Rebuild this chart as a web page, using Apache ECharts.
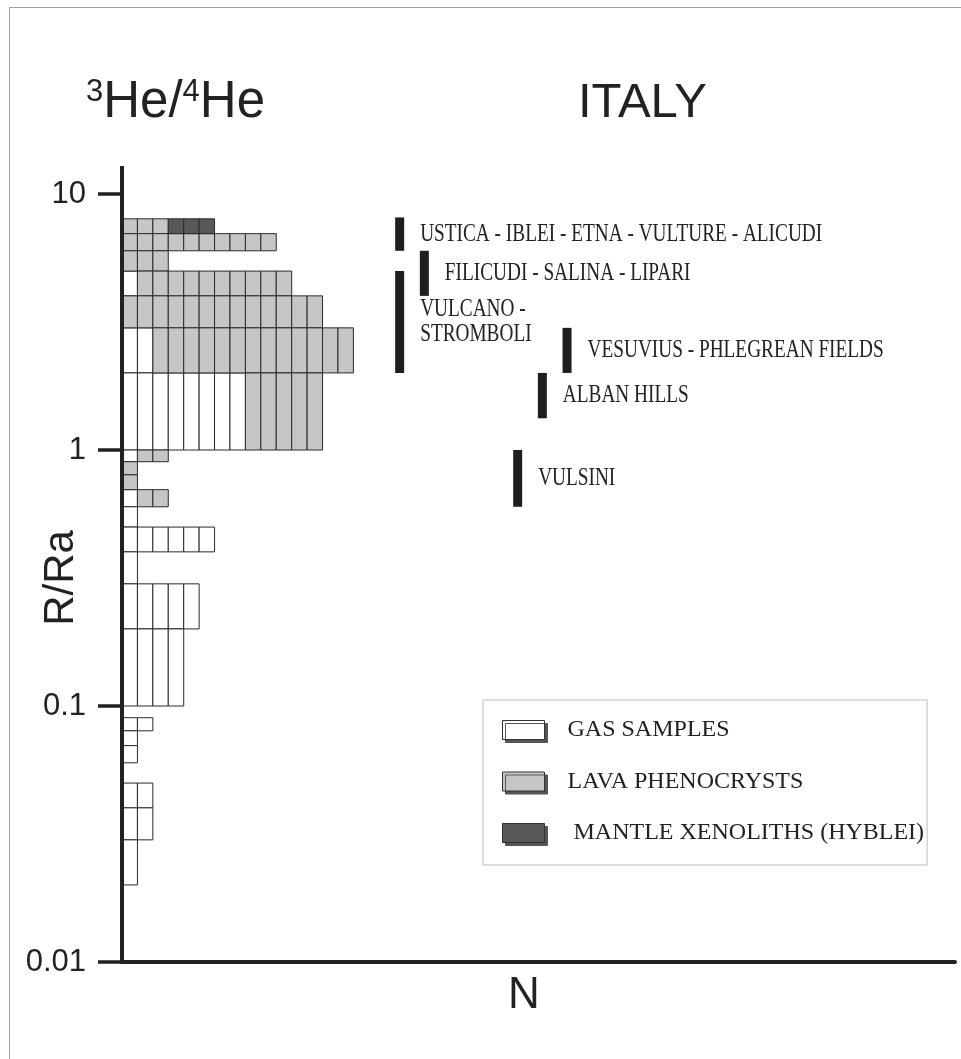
<!DOCTYPE html>
<html>
<head>
<meta charset="utf-8">
<script src="https://cdn.jsdelivr.net/npm/echarts@6/dist/echarts.min.js"></script>
<style>
html,body{margin:0;padding:0;background:#fff;}
#chart{width:961px;height:1059px;}
</style>
</head>
<body>
<div id="chart"></div>
<script>
// ---- Histogram bins of 3He/4He (R/Ra), log scale ----
const binLow  = [7, 6, 5, 4, 3, 2, 1, 0.9, 0.8, 0.7, 0.6, 0.5, 0.4, 0.3, 0.2, 0.1, 0.08, 0.07, 0.06, 0.04, 0.03, 0.02];
const binHigh = [8, 7, 6, 5, 4, 3, 2, 1,   0.9, 0.8, 0.7, 0.6, 0.5, 0.4, 0.3, 0.2, 0.09, 0.08, 0.07, 0.05, 0.04, 0.03];
const gasCounts    = [0, 0, 0, 1, 0, 2, 8, 1, 0, 0, 1, 1, 6, 1, 5, 4, 2, 1, 1, 2, 2, 1];
const lavaCounts   = [3,10, 3,10,13,13, 5, 2, 1, 1, 2, 0, 0, 0, 0, 0, 0, 0, 0, 0, 0, 0];
const mantleCounts = [3, 0, 0, 0, 0, 0, 0, 0, 0, 0, 0, 0, 0, 0, 0, 0, 0, 0, 0, 0, 0, 0];
const seriesNames = ['GAS SAMPLES', 'LAVA PHENOCRYSTS', 'MANTLE XENOLITHS (HYBLEI)'];

// ---- Ranges per volcanic district ----
const rangeNames = ['USTICA - IBLEI - ETNA - VULTURE - ALICUDI', 'FILICUDI - SALINA - LIPARI', 'VULCANO -\nSTROMBOLI', 'VESUVIUS - PHLEGREAN FIELDS', 'ALBAN HILLS', 'VULSINI'];
const rangeN    = [18, 19.6, 18, 28.85, 27.25, 25.65];
const rangeLow  = [6, 4, 2, 2, 1.33, 0.6];
const rangeHigh = [8.1, 6, 5, 3, 2, 1];

// ---- Axis ticks ----
const yTickValues = [0.01, 0.1, 1, 10];
const yTickLabels = ['0.01', '0.1', '1', '10'];

// build cell tables from the counts
const gasCells = [], lavaCells = [], mantleCells = [];
for (let i = 0; i < binLow.length; i++) {
  let n = 0;
  for (let k = 0; k < gasCounts[i]; k++) gasCells.push([n++, binLow[i], binHigh[i]]);
  for (let k = 0; k < lavaCounts[i]; k++) lavaCells.push([n++, binLow[i], binHigh[i]]);
  for (let k = 0; k < mantleCounts[i]; k++) mantleCells.push([n++, binLow[i], binHigh[i]]);
}
const rangeData = rangeNames.map((_, i) => [rangeN[i], rangeLow[i], rangeHigh[i], i]);

const fills = ['#ffffff', '#c6c6c6', '#585858'];
const SANS = '"Liberation Sans", Arial, sans-serif';
const SERIF = '"Liberation Serif", "Times New Roman", serif';

function cellRender(fill) {
  return function (params, api) {
    const n = api.value(0), lo = api.value(1), hi = api.value(2);
    const a = api.coord([n, hi]);
    const b = api.coord([n + 1, lo]);
    return {
      type: 'rect',
      shape: { x: a[0], y: a[1], width: b[0] - a[0], height: b[1] - a[1] },
      style: { fill: fill, stroke: '#2a2a2a', lineWidth: 1 }
    };
  };
}

function rangeRender(params, api) {
  const n = api.value(0), lo = api.value(1), hi = api.value(2), idx = api.value(3);
  const top = api.coord([n, hi]);
  const bot = api.coord([n, lo]);
  const w = 9;
  const cy = (top[1] + bot[1]) / 2;
  return {
    type: 'group',
    children: [
      { type: 'rect', shape: { x: top[0] - w / 2, y: top[1], width: w, height: bot[1] - top[1] },
        style: { fill: '#1e1e1e' } },
      { type: 'text', x: top[0] + w / 2 + 16, y: cy, scaleY: 1.35,
        style: { text: rangeNames[idx], fill: '#222', fontSize: 19.3, fontFamily: SERIF,
                 textAlign: 'left', textVerticalAlign: 'middle', align: 'left', verticalAlign: 'middle',
                 lineHeight: 18.5 } }
    ]
  };
}

const chart = echarts.init(document.getElementById('chart'), null, { renderer: 'canvas' });

const option = {
  animation: false,
  backgroundColor: '#ffffff',
  grid: { left: 122, top: 194, right: 6, bottom: 97, containLabel: false, outerBoundsMode: 'none' },
  xAxis: {
    type: 'value', min: 0, max: 54, z: 10,
    name: 'N', nameLocation: 'middle', nameGap: 12, nameMoveOverlap: false,
    nameTextStyle: { fontFamily: SANS, fontSize: 44, color: '#222', verticalAlign: 'top', padding: [0, 29, 0, 0] },
    axisLine: { show: true, lineStyle: { color: '#222', width: 4 } },
    axisTick: { show: false }, axisLabel: { show: false }, splitLine: { show: false }
  },
  yAxis: {
    type: 'log', logBase: 10, min: 0.01, max: 10, z: 10,
    name: 'R/Ra', nameLocation: 'middle', nameGap: 40, nameMoveOverlap: false,
    nameTextStyle: { fontFamily: SANS, fontSize: 42, color: '#222' },
    axisLine: { show: true, lineStyle: { color: '#222', width: 4 } },
    axisTick: { show: true, inside: false, length: 24, lineStyle: { color: '#222', width: 3.5 } },
    axisLabel: {
      margin: 36, fontFamily: SANS, fontSize: 31, color: '#222',
      formatter: function (v) {
        const e = Math.round(Math.log10(v));
        const i = yTickValues.findIndex(t => Math.round(Math.log10(t)) === e);
        return i >= 0 ? yTickLabels[i] : '';
      }
    },
    splitLine: { show: false }
  },
  legend: {
    orient: 'vertical', left: 483, top: 700,
    padding: [18, 3, 20, 19], itemGap: 27.5, itemWidth: 42, itemHeight: 19,
    backgroundColor: '#ffffff', borderColor: '#bdbdbd', borderWidth: 1,
    selectedMode: false, icon: 'rect',
    textStyle: { fontFamily: SERIF, fontSize: 24, color: '#222', padding: [0, 0, 0, 18] },
    formatter: function (name) { return name === seriesNames[2] ? ' ' + name : name; },
    data: seriesNames.map((nm, i) => ({
      name: nm,
      itemStyle: { color: fills[i], borderColor: '#333', borderWidth: 1,
                   shadowColor: '#555', shadowOffsetX: 3, shadowOffsetY: 3, shadowBlur: 0 }
    }))
  },
  series: [
    { name: seriesNames[0], type: 'custom', renderItem: cellRender(fills[0]), data: gasCells,
      encode: { x: 0, y: [1, 2] }, itemStyle: { color: fills[0] }, z: 2 },
    { name: seriesNames[1], type: 'custom', renderItem: cellRender(fills[1]), data: lavaCells,
      encode: { x: 0, y: [1, 2] }, itemStyle: { color: fills[1] }, z: 2 },
    { name: seriesNames[2], type: 'custom', renderItem: cellRender(fills[2]), data: mantleCells,
      encode: { x: 0, y: [1, 2] }, itemStyle: { color: fills[2] }, z: 2 },
    { name: 'ranges', type: 'custom', renderItem: rangeRender, data: rangeData,
      encode: { x: 0, y: [1, 2] }, z: 3 }
  ]
};
chart.setOption(option);

// decorations: frame, titles, axis stub above the top tick
const y10 = chart.convertToPixel({ yAxisIndex: 0 }, 10);
const x0 = chart.convertToPixel({ xAxisIndex: 0 }, 0);
chart.setOption({
  graphic: [
    { type: 'line', shape: { x1: 9.5, y1: 7, x2: 9.5, y2: 1059 }, style: { stroke: '#a0a0a0', lineWidth: 1 } },
    { type: 'line', shape: { x1: 9, y1: 7.5, x2: 961, y2: 7.5 }, style: { stroke: '#a0a0a0', lineWidth: 1 } },
    { type: 'line', z: 20, shape: { x1: x0, y1: y10 - 28, x2: x0, y2: y10 }, style: { stroke: '#222', lineWidth: 4 } },
    { type: 'text', left: 86, top: 77,
      style: { text: '{sup|3}{main|He/}{sup|4}{main|He}', fill: '#222',
               rich: { sup: { fontSize: 31, fontFamily: SANS, lineHeight: 51, verticalAlign: 'top', fill: '#222' },
                       main: { fontSize: 51, fontFamily: SANS, lineHeight: 51, fill: '#222' } } } },
    { type: 'text', left: 578, top: 79,
      style: { text: 'ITALY', fill: '#222', fontSize: 49, fontFamily: SANS } }
  ]
});
</script>
</body>
</html>
